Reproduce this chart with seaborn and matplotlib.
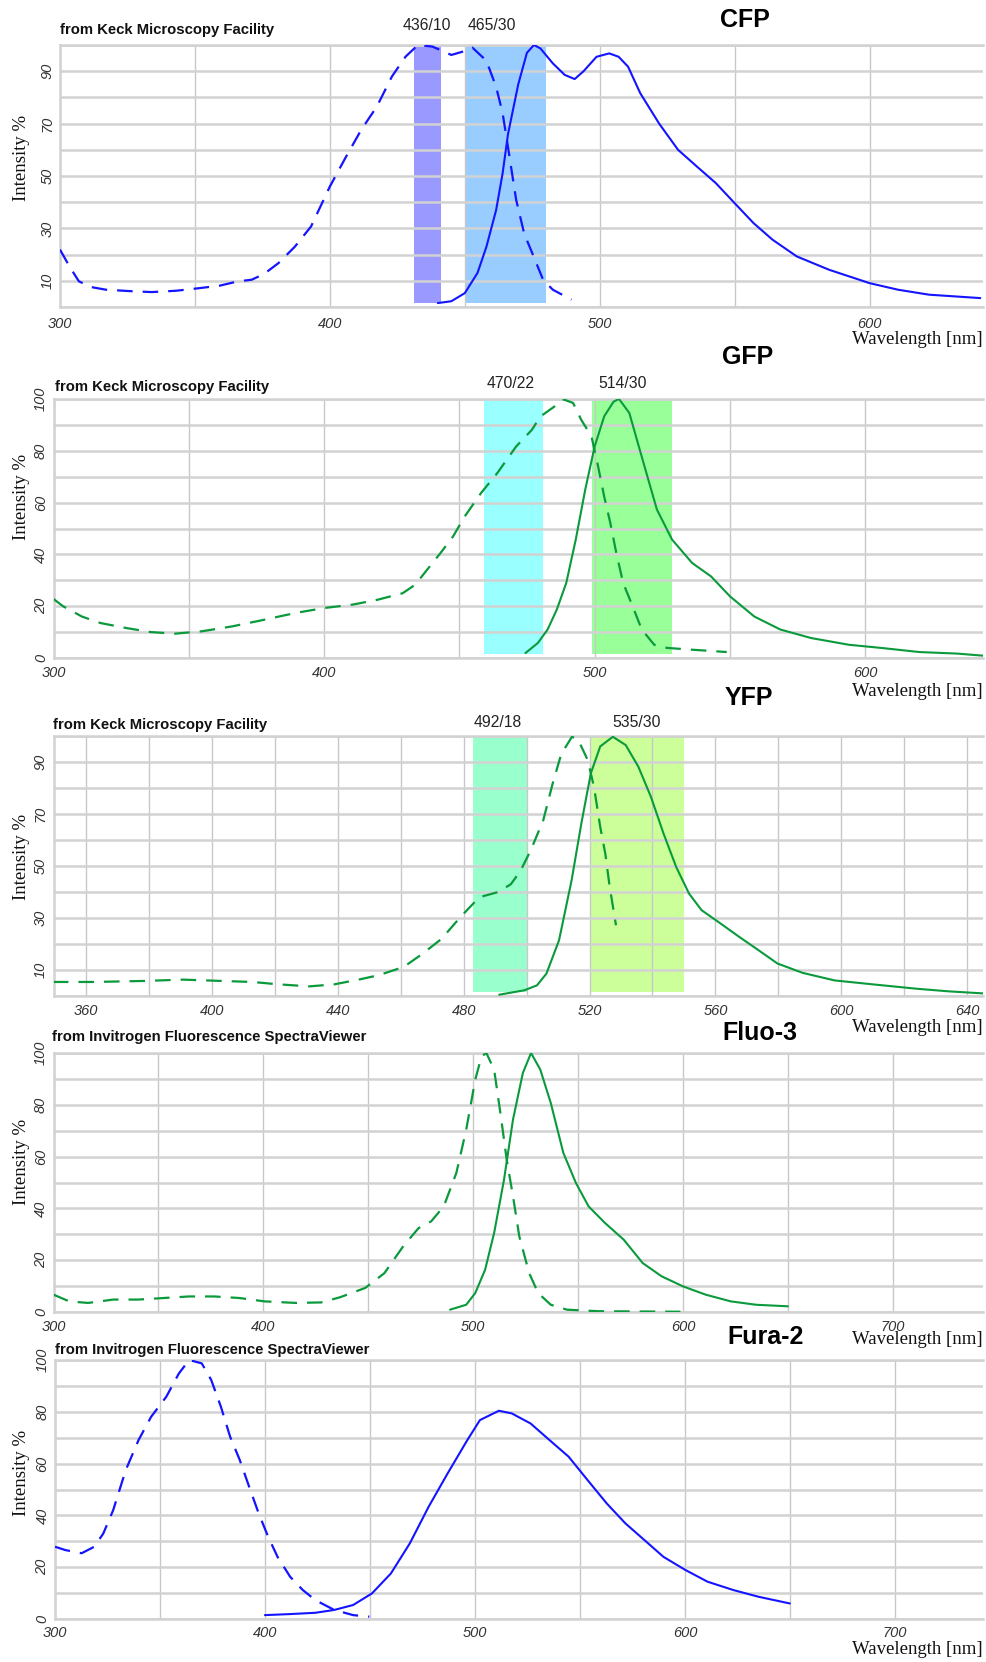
import numpy as np
import pandas as pd
import matplotlib
matplotlib.use("Agg")
import matplotlib.pyplot as plt
import seaborn as sns

# ---------------- DATA ----------------
# CFP
cfp_ex_wl = [300, 303.5, 307, 311.6, 317, 327, 334, 343, 350, 359, 366, 371, 375.6, 381, 387, 393, 400, 405.8,
             411.6, 417.4, 423, 428, 432.6, 438, 445, 451, 452.8, 458, 461.6, 464, 466, 469, 472, 475.6, 479,
             482.6, 489.5]
cfp_ex_int = [21.9, 15.5, 9.8, 7.6, 6.6, 6.0, 5.7, 6.2, 7.0, 8.1, 9.8, 10.4, 12.6, 16.8, 23, 30.7, 46, 57,
              67.6, 76.5, 88, 95.5, 100, 99.4, 96.2, 98, 99, 94, 84, 74, 61, 41, 28, 19, 10.4, 6.6, 2.8]
cfp_em_wl = [440, 445, 450, 454.7, 458, 461.6, 464, 466, 469.8, 473, 475.6, 478, 482.6, 487, 490.7, 494, 498.8,
             503.5, 507, 510.5, 515, 522, 529, 536, 543, 550, 557, 564, 573, 585, 600, 610.5, 622, 641]
cfp_em_int = [1.5, 2.2, 5.3, 13, 23, 37, 51, 66, 85, 97, 100, 98.7, 93, 88.6, 87, 90, 95.5, 96.8, 95.5, 91.7,
              81.6, 70, 60, 53.6, 47.3, 39.6, 32, 25.7, 19.3, 14.2, 9.1, 6.6, 4.7, 3.4]

# GFP
gfp_ex_wl = [300, 303.5, 310.5, 317.4, 326.7, 336, 345, 354.7, 366, 378, 389.5, 400, 410.5, 419.8, 429, 433.7,
             438, 443, 447.7, 452, 458, 464, 471, 476.7, 480, 485, 488, 492, 495, 498.8, 501, 503.5, 505.8,
             508, 510.5, 514, 517.4, 522, 526.7, 536, 548.8]
gfp_ex_int = [22.8, 20, 16, 13.5, 11.6, 10, 9.4, 10.3, 12.2, 14.8, 17.4, 19.3, 20.6, 22.5, 25, 28.3, 34, 40.5,
              47, 54.7, 63.7, 71.4, 81.7, 88, 93.3, 97, 100, 98.5, 92, 85.6, 75.3, 62.4, 52, 40.5, 29, 20, 11,
              5.1, 3.9, 3.2, 2.3]
gfp_em_wl = [474.4, 479, 482.6, 486, 489.5, 493, 496.5, 500, 503.5, 507, 509, 512.8, 516.3, 519.8, 523, 528.6,
             536, 543, 550, 559, 568.6, 580, 594, 605.8, 620, 634, 643.5]
gfp_em_int = [1.9, 5.8, 11, 18.7, 29, 45.7, 65, 81.7, 93.3, 99, 100, 94.6, 81.7, 68.9, 57.3, 45.7, 36.7, 31.5,
              23.8, 16, 11, 7.7, 5.1, 3.9, 2.3, 1.7, 0.9]

# YFP
yfp_ex_wl = [349.5, 362.6, 378.7, 390.8, 402.8, 412.9, 421, 431, 439, 447, 453, 461, 467, 473, 479, 485, 491,
             495, 498, 501.3, 505.3, 508.3, 511, 514.4, 516.4, 519.4, 521.4, 523.4, 525, 526.4, 528.4]
yfp_ex_int = [5.4, 5.4, 5.8, 6.3, 5.8, 5.4, 4.5, 3.7, 4.5, 6.4, 8, 11.2, 16.3, 22, 30.4, 38, 40, 43, 48, 56,
              67.6, 81.8, 93, 99.7, 98.5, 90.8, 80.5, 65, 54.8, 42, 27.2]
yfp_em_wl = [491.3, 499.3, 503.3, 506.3, 510.3, 514.3, 517.4, 520.4, 523.4, 527.4, 531.5, 535.5, 539.5, 543.5,
             547.5, 551.6, 555.6, 561.6, 567.6, 573.7, 579.7, 587.7, 597.8, 609.8, 623.9, 634, 646.4]
yfp_em_int = [0.5, 2.2, 4.1, 8.6, 21.4, 44.5, 66.4, 85.6, 96, 99.7, 96.5, 88.2, 76.6, 62.5, 49.7, 39.4, 33,
              27.9, 22.7, 17.6, 12.5, 8.9, 6, 4.5, 2.8, 1.8, 0.9]

# Fluo-3
fluo_ex_wl = [300, 307.5, 316.5, 328.5, 340.5, 352.5, 364.6, 376.6, 388.6, 400.6, 415.6, 427.6, 436.6, 448.6,
              457.7, 466.7, 474, 480, 486, 492, 496.7, 501, 504, 506.3, 510, 513, 516, 519, 522, 526.7, 531,
              537, 544.7, 559.8, 598.8]
fluo_ex_int = [6.7, 4.1, 3.5, 4.8, 4.8, 5.4, 6, 6, 5.4, 4.1, 3.5, 3.7, 5.7, 9.3, 15, 25.4, 32.4, 35, 40.8,
               53.7, 70.4, 89.7, 98.7, 100, 93.6, 76.8, 58.8, 44.7, 29.2, 15, 7.3, 2.8, 0.9, 0.3, 0.1]
fluo_em_wl = [489, 496.7, 501, 505.7, 510, 514.7, 519, 523.7, 527.6, 532, 537, 543, 549, 555, 562.8, 571.8,
              580.8, 589.8, 600, 610.8, 622.8, 634.8, 650]
fluo_em_int = [0.9, 2.8, 7.3, 16.3, 30.5, 51, 74.3, 92.3, 100, 93.6, 80.7, 61.4, 49.8, 40.8, 34.4, 27.9, 18.9,
               13.8, 9.9, 6.7, 4.1, 2.8, 2.2]

# Fura-2
fura_ex_wl = [300, 305, 312.7, 318.7, 323, 327.7, 333.7, 339.8, 345.8, 353, 359, 363.9, 369.9, 374.4, 379,
              383.4, 388, 392.5, 397, 401.5, 406, 412, 418, 424, 433, 442, 449.7]
fura_ex_int = [27.9, 26.6, 25.4, 27.9, 33, 42, 57.5, 69.1, 78.1, 85.8, 94.8, 100, 98.7, 92.3, 82, 70.4, 61.4,
               51, 40.8, 31.8, 24, 16.3, 11.2, 7.3, 3.5, 1.5, 0.9]
fura_em_wl = [400, 412, 424, 433, 442, 451, 460, 469, 478, 487, 496.4, 502.4, 511.4, 517.5, 526.5, 535.5,
              544.6, 553.6, 562.7, 571.7, 580.7, 589.8, 600.3, 610.8, 623, 635, 650]
fura_em_int = [1.5, 1.9, 2.4, 3.5, 5.4, 9.9, 17.6, 29.2, 43.4, 56.2, 69.1, 76.8, 80.4, 79.4, 75.5, 69.1, 62.7,
               53.7, 44.7, 36.9, 30.5, 24, 18.9, 14.4, 11.2, 8.6, 6]

# Filter bands
cfp_bands = [(431, 441), (450, 480)]
cfp_band_labels = ["436/10", "465/30"]
gfp_bands = [(459, 481), (499, 528.5)]
gfp_band_labels = ["470/22", "514/30"]
yfp_bands = [(483, 500.5), (520, 550)]
yfp_band_labels = ["492/18", "535/30"]

titles = ["CFP", "GFP", "YFP", "Fluo-3", "Fura-2"]
sources = ["from Keck Microscopy Facility", "from Keck Microscopy Facility", "from Keck Microscopy Facility",
           "from Invitrogen Fluorescence SpectraViewer", "from Invitrogen Fluorescence SpectraViewer"]

# ---------------- STYLE ----------------
sns.set_theme(style="white")
plt.rcParams["font.family"] = ["Liberation Sans", "DejaVu Sans"]

W, H = 987, 1662
fig = plt.figure(figsize=(W / 100, H / 100), dpi=100)
fig.patch.set_facecolor("white")

BLUE = "#1414ff"
GREEN = "#0a9a3c"
GRID_H = "#d2d2d2"
GRID_V = "#c8c8c8"
SERIF = ["Liberation Serif", "DejaVu Serif"]


def fx(x):
    return x / W


def fy(y):
    return 1 - y / H


panels = [
    dict(box=(60, 983, 45, 307), xlim=(300, 642), xmaj=np.arange(300, 701, 100), xmin=np.arange(350, 701, 100),
         ymaj=[10, 30, 50, 70, 90], ymin=[0, 20, 40, 60, 80, 100], color=BLUE,
         ex=(cfp_ex_wl, cfp_ex_int), em=(cfp_em_wl, cfp_em_int),
         bands=cfp_bands, blabels=cfp_band_labels, bcolors=["#9999ff", "#99ccff"], bpos=[427, 492],
         title_xy=(745, 20), src_xy=(60, 30), blabel_y=25, ylabel_y=158, wl_y=339, tick_off=16),
    dict(box=(53.5, 983, 399, 658), xlim=(300, 643.5), xmaj=np.arange(300, 701, 100), xmin=np.arange(350, 701, 100),
         ymaj=[0, 20, 40, 60, 80, 100], ymin=[10, 30, 50, 70, 90], color=GREEN,
         ex=(gfp_ex_wl, gfp_ex_int), em=(gfp_em_wl, gfp_em_int),
         bands=gfp_bands, blabels=gfp_band_labels, bcolors=["#99ffff", "#99ff99"], bpos=[511, 623],
         title_xy=(748, 357), src_xy=(55, 387), blabel_y=383, ylabel_y=497, wl_y=692, tick_off=15),
    dict(box=(53.5, 983, 736, 996), xlim=(349.7, 645), xmaj=np.arange(360, 641, 40), xmin=np.arange(380, 641, 40),
         ymaj=[10, 30, 50, 70, 90], ymin=[0, 20, 40, 60, 80, 100], color=GREEN,
         ex=(yfp_ex_wl, yfp_ex_int), em=(yfp_em_wl, yfp_em_int),
         bands=yfp_bands, blabels=yfp_band_labels, bcolors=["#99ffcc", "#ccff99"], bpos=[498, 637],
         title_xy=(749, 698), src_xy=(53, 725), blabel_y=723, ylabel_y=857, wl_y=1028, tick_off=15),
    dict(box=(53.5, 983, 1053, 1312), xlim=(300, 743), xmaj=np.arange(300, 701, 100), xmin=np.arange(350, 751, 100),
         ymaj=[0, 20, 40, 60, 80, 100], ymin=[10, 30, 50, 70, 90], color=GREEN,
         ex=(fluo_ex_wl, fluo_ex_int), em=(fluo_em_wl, fluo_em_int),
         bands=[], blabels=[], bcolors=[], bpos=[],
         title_xy=(760, 1033), src_xy=(52, 1037), blabel_y=0, ylabel_y=1162, wl_y=1340, tick_off=15),
    dict(box=(55, 983, 1360, 1619), xlim=(300, 742), xmaj=np.arange(300, 701, 100), xmin=np.arange(350, 751, 100),
         ymaj=[0, 20, 40, 60, 80, 100], ymin=[10, 30, 50, 70, 90], color=BLUE,
         ex=(fura_ex_wl, fura_ex_int), em=(fura_em_wl, fura_em_int),
         bands=[], blabels=[], bcolors=[], bpos=[],
         title_xy=(766, 1337), src_xy=(55, 1350), blabel_y=0, ylabel_y=1473, wl_y=1650, tick_off=14),
]

for i, p in enumerate(panels):
    l, r, t, b = p["box"]
    ax = fig.add_axes([fx(l), fy(b), (r - l) / W, (b - t) / H])
    ax.set_facecolor("white")
    ax.set_axisbelow("line")
    x0, x1 = p["xlim"]

    # filter bands
    for (lo, hi), c in zip(p["bands"], p["bcolors"]):
        ax.axvspan(lo, hi, ymin=0.015, ymax=1.0, color=c, lw=0, zorder=1)

    # spectra
    ex_df = pd.DataFrame({"wl": p["ex"][0], "I": p["ex"][1]})
    em_df = pd.DataFrame({"wl": p["em"][0], "I": p["em"][1]})
    sns.lineplot(data=ex_df, x="wl", y="I", ax=ax, color=p["color"], lw=1.6, sort=False,
                 estimator=None, zorder=3)
    ax.lines[-1].set_dashes([7, 4.5])
    sns.lineplot(data=em_df, x="wl", y="I", ax=ax, color=p["color"], lw=1.5, sort=False,
                 estimator=None, zorder=3)

    # ticks and grid
    xmaj = [v for v in p["xmaj"] if x0 <= v <= x1]
    xmin = [v for v in p["xmin"] if x0 <= v <= x1]
    ax.set_xticks(xmaj)
    ax.set_xticks(xmin, minor=True)
    ax.set_yticks(p["ymaj"])
    ax.set_yticks(p["ymin"], minor=True)
    ax.set_xlim(x0, x1)
    ax.set_ylim(0, 100)
    ax.grid(axis="y", which="both", color=GRID_H, lw=1.8)
    ax.grid(axis="x", which="both", color=GRID_V, lw=1.0)
    ax.tick_params(which="both", length=0)
    ax.tick_params(axis="x", pad=p["tick_off"] - 9)
    ax.tick_params(axis="y", pad=4)
    ax.set_xticklabels([str(v) for v in xmaj], fontsize=10.5, fontstyle="italic", color="#333333")
    ax.set_yticklabels([str(v) for v in p["ymaj"]], fontsize=10.5, fontstyle="italic", color="#333333",
                       rotation=90, va="center")

    for s in ["left", "bottom", "top"]:
        ax.spines[s].set_color(GRID_H)
        ax.spines[s].set_linewidth(1.8)
    ax.spines["right"].set_visible(False)

    ax.set_xlabel("")
    ax.set_ylabel("")

    # labels
    fig.text(fx(22), fy(p["ylabel_y"]), "Intensity %", family=SERIF, fontsize=13.5, rotation=90,
             ha="center", va="center", color="#111111")
    fig.text(fx(983), fy(p["wl_y"]), "Wavelength [nm]", family=SERIF, fontsize=13.5,
             ha="right", va="center", color="#111111")
    fig.text(fx(p["title_xy"][0]), fy(p["title_xy"][1]), titles[i], fontsize=18, fontweight="bold",
             ha="center", va="center", color="black")
    fig.text(fx(p["src_xy"][0]), fy(p["src_xy"][1]), sources[i], fontsize=10.7, fontweight="bold",
             ha="left", va="center", color="#111111")
    for lab, xp in zip(p["blabels"], p["bpos"]):
        fig.text(fx(xp), fy(p["blabel_y"]), lab, fontsize=11.3, ha="center", va="center", color="#222222")

fig.savefig("out.png", dpi=100, facecolor="white")
